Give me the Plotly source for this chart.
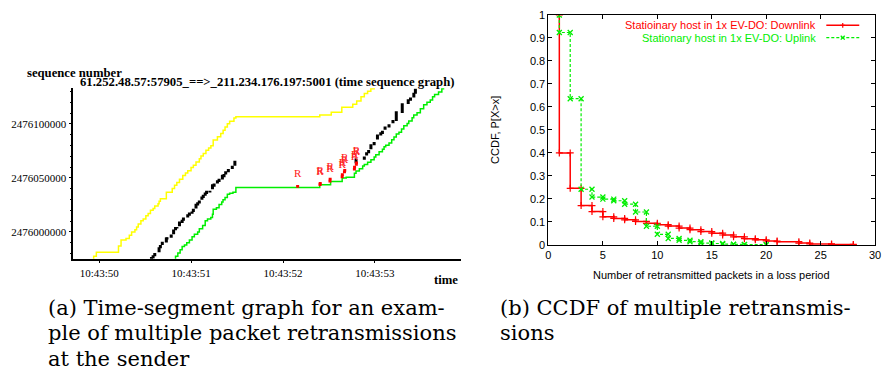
import plotly.graph_objects as go
from datetime import datetime, timedelta

# ---------------- panel (a) data ----------------
# time: seconds after 10:43:50 ; seq: offset in kB relative to SEQ_BASE
SEQ_BASE = 2476000000
yellow_t = [-0.086, -0.061, -0.032, 0.209, 0.237, 0.291, 0.327, 0.352, 0.388, 0.406, 0.424, 0.453,
            0.478, 0.507, 0.532, 0.557, 0.586, 0.604, 0.640, 0.651, 0.665, 0.730, 0.794, 0.819,
            0.844, 0.873, 0.909, 0.938, 0.963, 0.999, 1.024, 1.053, 1.089, 1.107, 1.132, 1.161,
            1.190, 1.215, 1.240, 1.286, 1.322, 1.348, 1.369, 1.394, 1.419, 1.466, 1.487, 2.400,
            2.525, 2.640, 2.759, 2.802, 2.849, 2.885, 2.921, 2.956, 2.992, 3.050]
yellow_s = [-26.0, -22.4, -18.8, -12.9, -7.5, -6.0, -3.0, 0.0, 2.1, 4.5, 7.4, 10.4,
            11.9, 14.9, 17.0, 20.0, 21.8, 23.9, 26.0, 28.3, 30.7, 36.7, 40.3, 43.3,
            45.7, 48.7, 52.2, 54.6, 56.7, 59.7, 61.8, 64.8, 67.8, 70.2, 72.6, 75.6,
            77.7, 79.8, 85.1, 88.1, 91.1, 94.1, 97.0, 100.0, 102.4, 105.4, 106.6, 108.1,
            110.8, 115.3, 118.2, 121.2, 125.1, 128.1, 130.2, 132.6, 134.1, 137.0]

green_t = [0.809, 0.830, 0.855, 0.880, 0.902, 0.927, 0.952, 0.981, 1.010, 1.035, 1.071, 1.089,
           1.125, 1.153, 1.178, 1.214, 1.232, 1.240, 1.275, 1.304, 1.333, 1.347, 1.369, 1.394,
           1.419, 1.455, 1.487, 2.400, 2.518, 2.644, 2.688, 2.777, 2.795, 2.831, 2.867, 2.885,
           2.921, 2.957, 2.992, 3.010, 3.046, 3.082, 3.100, 3.118, 3.154, 3.183, 3.208, 3.233,
           3.262, 3.290, 3.315, 3.351, 3.369, 3.405, 3.423, 3.459, 3.495, 3.531, 3.567, 3.603,
           3.628, 3.650, 3.693, 3.729, 3.747]
green_s = [-26.0, -22.4, -19.4, -16.5, -13.5, -12.0, -9.9, -7.5, -4.5, -2.1, 0.0, 3.0,
           6.0, 10.4, 11.9, 13.4, 16.4, 20.9, 22.4, 25.4, 27.8, 29.8, 31.9, 34.9,
           35.8, 36.7, 41.2, 43.6, 46.6, 49.9, 50.5, 54.3, 56.4, 58.5, 60.9, 62.4,
           64.5, 66.9, 69.3, 71.4, 74.3, 76.4, 78.8, 80.3, 82.4, 85.4, 87.8, 90.7,
           92.2, 95.3, 98.2, 100.3, 102.7, 105.7, 108.1, 110.2, 114.1, 117.6, 120.0, 122.1,
           125.1, 127.2, 129.6, 132.6, 134.7]

data_t = [0.568, 0.586, 0.604, 0.651, 0.665, 0.686, 0.730, 0.737, 0.783, 0.809, 0.830, 0.845,
          0.873, 0.902, 0.916, 0.963, 0.981, 1.010, 1.024, 1.053, 1.071, 1.089, 1.117, 1.132,
          1.153, 1.168, 1.204, 1.232, 1.250, 1.286, 1.304, 1.340, 1.358, 1.376, 1.405, 1.448,
          1.476,
          2.795, 2.885, 2.910, 2.932, 2.957, 2.992, 3.028, 3.064, 3.082, 3.111, 3.154, 3.197,
          3.233, 3.298, 3.363, 3.388, 3.424, 3.441]
data_s = [-24.5, -23.0, -20.9, -16.5, -13.5, -10.5, -7.5, -6.0, -3.9, 0.0, 3.0, 3.9,
          7.4, 9.8, 11.9, 14.9, 16.4, 17.9, 20.0, 23.9, 26.0, 27.7, 31.3, 32.8,
          34.9, 36.7, 37.3, 41.8, 43.3, 46.3, 47.8, 50.7, 52.2, 54.6, 56.7, 59.7,
          63.6,
          65.7, 68.4, 72.2, 74.4, 78.8, 81.8, 87.8, 90.8, 92.2, 96.1, 98.2, 102.1,
          107.2, 114.5, 120.6, 123.0, 126.6, 130.2]
data_len = [2.5, 3.0, 3.0, 4.5, 3.0, 3.0, 4.5, 2.0, 3.0, 4.5, 3.0, 1.5,
            4.5, 3.0, 3.0, 3.0, 3.0, 2.0, 3.0, 4.5, 3.0, 3.0, 3.0, 3.0,
            3.0, 3.0, 1.5, 4.5, 3.0, 3.0, 3.0, 4.5, 3.0, 3.0, 3.0, 3.0,
            4.5,
            4.5, 3.0, 3.0, 3.0, 4.5, 3.0, 4.5, 3.0, 3.0, 3.0, 3.0, 3.0,
            9.0, 9.0, 4.5, 3.0, 4.5, 4.5]

retx_t = [2.159, 2.403, 2.405, 2.511, 2.513, 2.644, 2.646, 2.669, 2.672, 2.777, 2.779, 2.798, 2.800]
retx_s = [42.2, 43.8, 45.0, 47.0, 49.0, 51.0, 53.0, 55.5, 57.0, 58.0, 60.0, 62.5, 64.0]
R_OFFSET = 11.0  # kB above the retransmitted segment

# ---------------- panel (b) data ----------------
down_x = [1, 2, 3, 4, 5, 6, 7, 8, 9, 10, 11, 12, 13, 14, 15, 16, 17, 18, 19, 20, 21, 23, 24, 26, 28]
down_p = [0.400, 0.246, 0.171, 0.145, 0.122, 0.115, 0.109, 0.102, 0.094, 0.088, 0.082, 0.073, 0.066,
          0.058, 0.051, 0.043, 0.035, 0.027, 0.022, 0.017, 0.014, 0.008, 0.004, 0.002, 0.0]
up_x = [1, 2, 3, 4, 5, 6, 7, 8, 9, 10, 11, 12, 13, 14, 15, 16, 17, 18, 20]
up_p = [0.924, 0.636, 0.242, 0.208, 0.199, 0.192, 0.177, 0.143, 0.081, 0.046, 0.028, 0.020, 0.014,
        0.008, 0.006, 0.003, 0.002, 0.001, 0.0]

caption_a = ["(a) Time-segment graph for an exam-",
             "ple of multiple packet retransmissions",
             "at the sender"]
caption_b = ["(b) CCDF of multiple retransmis-",
             "sions"]

# ---------------- helpers ----------------
BASE = datetime(2009, 5, 1, 10, 43, 50)


def ts(u):
    return (BASE + timedelta(seconds=u)).strftime("%Y-%m-%d %H:%M:%S.%f")


def seq(s):
    return SEQ_BASE + s * 1000.0


def segs(tl, sl, ll):
    xs, ys = [], []
    for t, s, l in zip(tl, sl, ll):
        xs += [ts(t), ts(t), None]
        ys += [seq(s - l / 2), seq(s + l / 2), None]
    return xs, ys


def corners(xv, pv):
    xs, ys = [xv[0]], [1.0]
    prev = 1.0
    for x, p in zip(xv, pv):
        if xs[-1] != x:
            xs.append(x)
            ys.append(prev)
        xs.append(x)
        ys.append(p)
        prev = p
    return xs, ys


fig = go.Figure()

# panel (a)
fig.add_trace(go.Scatter(x=[ts(t) for t in yellow_t], y=[seq(s) for s in yellow_s], mode="lines",
                         line=dict(color="#ffff00", width=1.5, shape="hv"), xaxis="x", yaxis="y",
                         showlegend=False))
fig.add_trace(go.Scatter(x=[ts(t) for t in green_t], y=[seq(s) for s in green_s], mode="lines",
                         line=dict(color="#00ee00", width=1.5, shape="hv"), xaxis="x", yaxis="y",
                         showlegend=False))
bx, by = segs(data_t, data_s, data_len)
fig.add_trace(go.Scatter(x=bx, y=by, mode="lines", line=dict(color="black", width=3),
                         xaxis="x", yaxis="y", showlegend=False))
rx, ry = segs(retx_t, retx_s, [2.5] * len(retx_t))
fig.add_trace(go.Scatter(x=rx, y=ry, mode="lines", line=dict(color="#ff0000", width=3),
                         xaxis="x", yaxis="y", showlegend=False))
fig.add_trace(go.Scatter(x=[ts(t) for t in retx_t], y=[seq(s + R_OFFSET) for s in retx_s],
                         mode="text", text=["R"] * len(retx_t),
                         textfont=dict(family="Liberation Serif", size=11, color="#ff2020"),
                         xaxis="x", yaxis="y", showlegend=False, cliponaxis=False))

# panel (b)
dx, dy = corners(down_x, down_p)
fig.add_trace(go.Scatter(x=dx, y=dy, mode="lines+markers",
                         line=dict(color="#ff0000", width=1.5),
                         marker=dict(symbol="cross-thin-open", size=5,
                                     line=dict(color="#ff0000", width=1.2)),
                         xaxis="x2", yaxis="y2", showlegend=False))
ux, uy = corners(up_x, up_p)
fig.add_trace(go.Scatter(x=ux, y=uy, mode="lines+markers",
                         line=dict(color="#00ee00", width=1.2, dash="3px,2px"),
                         marker=dict(symbol="x-thin-open", size=5,
                                     line=dict(color="#00ee00", width=1.3)),
                         xaxis="x2", yaxis="y2", showlegend=False))

W, H = 891, 379


def px(x):
    return x / W


def py(y):
    return 1 - y / H


serif = "Liberation Serif"
sans = "Liberation Sans"
capfont = "DejaVu Serif"

fig.update_layout(
    width=W, height=H, margin=dict(l=0, r=0, t=0, b=0),
    paper_bgcolor="white", plot_bgcolor="white",
    xaxis=dict(domain=[px(71), px(463)], type="date", range=[ts(-0.283), ts(3.941)],
               tick0=ts(0), dtick=1000, tickformat="%H:%M:%S",
               showline=True, linecolor="black", linewidth=1.5, showgrid=False, zeroline=False,
               ticks="outside", ticklen=3, tickcolor="black",
               tickfont=dict(family=serif, size=11, color="black"), anchor="y"),
    yaxis=dict(domain=[py(261), py(85)], range=[seq(-24.8), seq(132.9)],
               tick0=SEQ_BASE, dtick=50000, tickformat="d",
               showline=True, linecolor="black", linewidth=1.5, showgrid=False, zeroline=False,
               ticks="outside", ticklen=3, tickcolor="black",
               minor=dict(dtick=10000, ticks="outside", ticklen=2, tickcolor="black", showgrid=False),
               tickfont=dict(family=serif, size=11, color="black"), anchor="x"),
    xaxis2=dict(domain=[px(551), px(881)], range=[0, 30], dtick=5,
                showline=True, mirror="ticks", linecolor="black", linewidth=1,
                showgrid=False, zeroline=False, ticks="inside", ticklen=4, tickcolor="black",
                tickfont=dict(family=sans, size=11, color="black"), anchor="y2"),
    yaxis2=dict(domain=[py(246.7), py(9.3)], range=[0, 1], dtick=0.1,
                showline=True, mirror="ticks", linecolor="black", linewidth=1,
                showgrid=False, zeroline=False, ticks="inside", ticklen=4, tickcolor="black",
                tickfont=dict(family=sans, size=11, color="black"), anchor="x2"),
)

ann = [
    dict(text="<b>61.252.48.57:57905_==>_211.234.176.197:5001 (time sequence graph)</b>",
         x=px(267), y=py(79), xanchor="center", yanchor="middle",
         font=dict(family=serif, size=12.7, color="black")),
    dict(text="<b>sequence number</b>", x=px(22.7), y=py(69.5), xanchor="left", yanchor="middle",
         font=dict(family=serif, size=12.7, color="black")),
    dict(text="<b>time</b>", x=px(462), y=py(283), xanchor="right", yanchor="middle",
         font=dict(family=serif, size=12.7, color="black")),
    dict(text="CCDF, P[X>x]", x=px(497), y=py(128), xanchor="center", yanchor="middle",
         textangle=-90, font=dict(family=sans, size=11, color="black")),
    dict(text="Number of retransmitted packets in a loss period", x=px(715.5), y=py(277.7),
         xanchor="center", yanchor="middle", font=dict(family=sans, size=11, color="black")),
    dict(text="Statioinary host in 1x EV-DO: Downlink", x=px(823), y=py(20), xanchor="right",
         yanchor="middle", font=dict(family=sans, size=11, color="#ff0000")),
    dict(text="Stationary host in 1x EV-DO: Uplink", x=px(823), y=py(32.7), xanchor="right",
         yanchor="middle", font=dict(family=sans, size=11, color="#00ee00")),
]
line_y = [311.5, 338.2, 364.9]
for i, line in enumerate(caption_a):
    ann.append(dict(text=line, x=px(43.3), y=py(line_y[i]), xanchor="left", yanchor="middle",
                    font=dict(family=capfont, size=21, color="black")))
for i, line in enumerate(caption_b):
    ann.append(dict(text=line, x=px(500), y=py(line_y[i]), xanchor="left", yanchor="middle",
                    font=dict(family=capfont, size=21, color="black")))
for a in ann:
    a.update(xref="paper", yref="paper", showarrow=False)
fig.update_layout(annotations=ann)

shapes = [
    dict(type="line", x0=px(831.7), x1=px(865), y0=py(20), y1=py(20),
         line=dict(color="#ff0000", width=1.5)),
    dict(type="line", x0=px(831.7), x1=px(865), y0=py(32.7), y1=py(32.7),
         line=dict(color="#00ee00", width=1.2, dash="3px,2px")),
    dict(type="line", x0=px(845.8), x1=px(850.8), y0=py(20), y1=py(20),
         line=dict(color="#ff0000", width=1.2)),
    dict(type="line", x0=px(848.3), x1=px(848.3), y0=py(17.5), y1=py(22.5),
         line=dict(color="#ff0000", width=1.2)),
    dict(type="line", x0=px(846.3), x1=px(850.3), y0=py(30.7), y1=py(34.7),
         line=dict(color="#00ee00", width=1.3)),
    dict(type="line", x0=px(846.3), x1=px(850.3), y0=py(34.7), y1=py(30.7),
         line=dict(color="#00ee00", width=1.3)),
]
for s in shapes:
    s.update(xref="paper", yref="paper")
fig.update_layout(shapes=shapes)

fig.write_html("out.html")
